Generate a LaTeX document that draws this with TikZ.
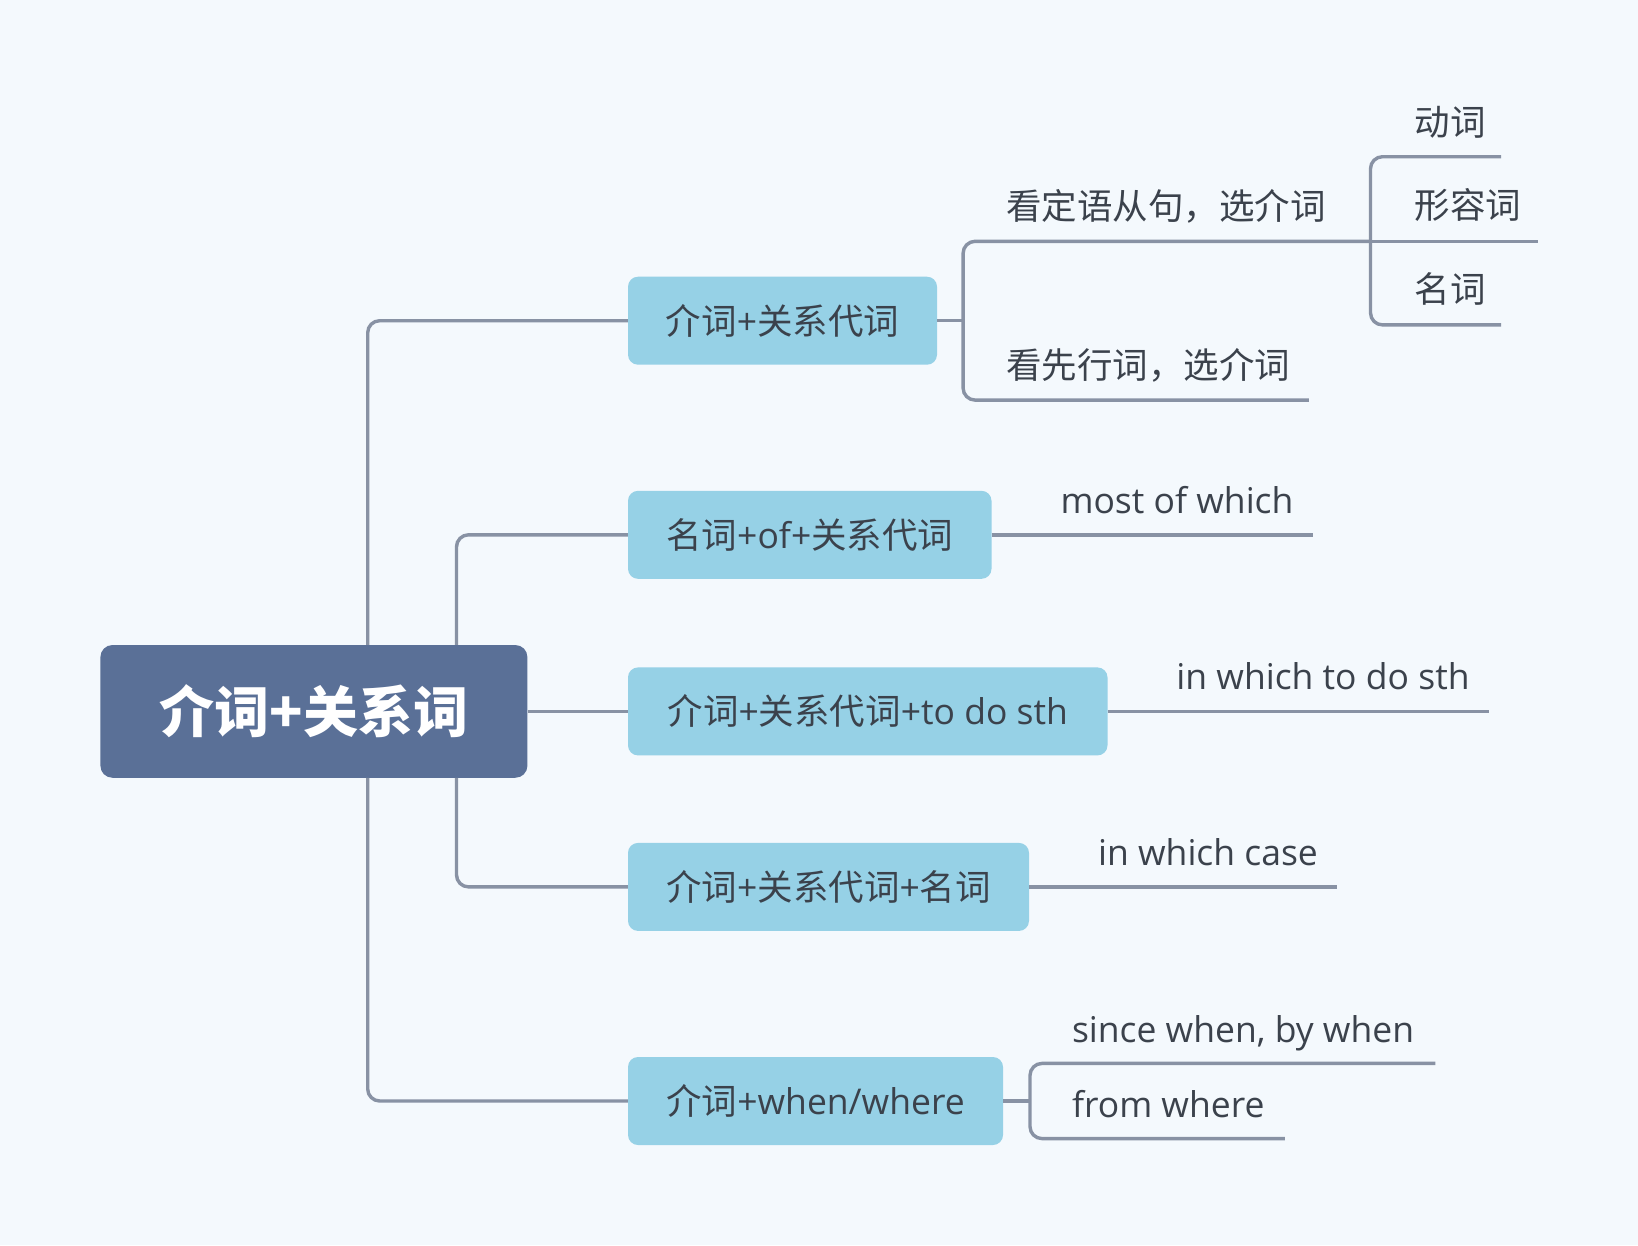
\documentclass[tikz,border=0pt]{standalone}
\usepackage{fontspec}
\setmainfont{Open Sans}
\newfontfamily\cjk{Noto Sans CJK SC}
\newcommand\zh[1]{{\cjk #1}}
\definecolor{bgc}{HTML}{F4F9FD}
\definecolor{rootc}{HTML}{5A7097}
\definecolor{boxc}{HTML}{96D1E6}
\definecolor{linec}{HTML}{8892A4}
\definecolor{txt}{HTML}{3B424C}
\begin{document}
\begin{tikzpicture}[x=1pt,y=-1pt,
  link/.style={draw=linec,line width=3.4pt},
  rlink/.style={link,rounded corners=12pt},
  rootbox/.style={fill=rootc,rounded corners=12pt,minimum width=427pt,minimum height=132.7pt,
    text=white,inner sep=0pt,font=\fontsize{55}{60}\selectfont\bfseries},
  topicbox/.style={fill=boxc,rounded corners=10pt,minimum height=88pt,anchor=west,inner sep=0pt,
    text=txt,font=\fontsize{35.5}{40}\selectfont},
  leaf/.style={anchor=base west,inner sep=0pt,text=txt,font=\fontsize{35.5}{40}\selectfont}]
\fill[bgc] (0,0) rectangle (1638,1245);
\useasboundingbox (0,0) rectangle (1638,1245);

% central topic
\node[rootbox] (root) at (313.9,711.4) {\zh{介词+关系词}};

% main topics
\node[topicbox,minimum width=309pt]   (b1) at (627.8,320.7)  {\zh{介词}+\zh{关系代词}};
\node[topicbox,minimum width=363.5pt] (b2) at (627.8,534.8)  {\zh{名词}+of+\zh{关系代词}};
\node[topicbox,minimum width=479.5pt] (b3) at (627.8,711.4)  {\zh{介词}+\zh{关系代词}+to do sth};
\node[topicbox,minimum width=401pt]   (b4) at (627.8,886.9)  {\zh{介词}+\zh{关系代词}+\zh{名词}};
\node[topicbox,minimum width=375pt]   (b5) at (627.8,1101.0) {\zh{介词}+when/where};

% trunk positions
\coordinate (o1) at (367.7,0);
\coordinate (i1) at (456.5,0);

\draw[rlink] (root.north -| o1) |- (b1.west);
\draw[rlink] (root.north -| i1) |- (b2.west);
\draw[link]  (root.east) -- (b3.west);
\draw[rlink] (root.south -| i1) |- (b4.west);
\draw[rlink] (root.south -| o1) |- (b5.west);

% subtopics of b1
\node[leaf] (t11) at (1006,219) {\zh{看定语从句，选介词}};
\node[leaf] (t12) at (1006,378.6) {\zh{看先行词，选介词}};
\node[leaf] (t111) at (1414.4,135.2) {\zh{动词}};
\node[leaf] (t112) at (1414.4,218.8) {\zh{形容词}};
\node[leaf] (t113) at (1414.4,302.4) {\zh{名词}};

\coordinate (j1) at (963.1,320.7);
\coordinate (s11) at (963.1,241.3);
\coordinate (e11) at (1370.5,241.3);
\coordinate (e12) at (1308.9,400.1);
\coordinate (e111) at (1501.1,156.7);
\coordinate (e112) at (1537.6,241.3);
\coordinate (e113) at (1501.1,324.9);

\draw[link] (b1.east) -- (j1);
\draw[rlink] (e11) -- (s11) -- (s11 |- e12) -- (e12);
\draw[rlink] (e111) -- (e111 -| e11) -- (e113 -| e11) -- (e113);
\draw[link] (e11) -- (e112);

% subtopics of b2, b3, b4
\node[leaf] (t2) at (1060.3,513.4) {most of which};
\node[leaf] (t3) at (1176.2,689.9) {in which to do sth};
\node[leaf] (t4) at (1097.9,865.4) {in which case};
\coordinate (e2) at (1313.1,534.8);
\coordinate (e3) at (1488.6,711.4);
\coordinate (e4) at (1337.1,886.9);
\draw[link] (b2.east) -- (e2);
\draw[link] (b3.east) -- (e3);
\draw[link] (b4.east) -- (e4);

% subtopics of b5
\node[leaf] (t51) at (1071.8,1042) {since when, by when};
\node[leaf] (t52) at (1071.8,1117.1) {from where};
\coordinate (j5) at (1030,1101.0);
\coordinate (e51) at (1435.3,1063.4);
\coordinate (e52) at (1284.9,1138.6);
\draw[link] (b5.east) -- (j5);
\draw[rlink] (e51) -- (e51 -| j5) -- (e52 -| j5) -- (e52);
\end{tikzpicture}
\end{document}
